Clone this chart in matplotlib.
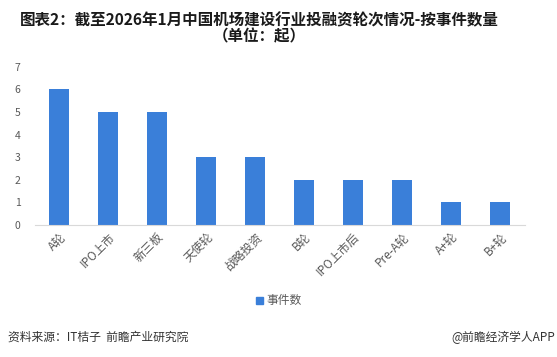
import matplotlib
matplotlib.use("Agg")
import matplotlib.pyplot as plt
from matplotlib.patches import Rectangle

plt.rcParams['font.family'] = ['Noto Sans CJK SC', 'DejaVu Sans']

categories = ["A轮", "IPO上市", "新三板", "天使轮", "战略投资", "B轮", "IPO上市后", "Pre-A轮", "A+轮", "B+轮"]
values = [6, 5, 5, 3, 3, 2, 2, 2, 1, 1]
series_name = "事件数"
title = "图表2：截至2026年1月中国机场建设行业投融资轮次情况-按事件数量\n（单位：起）"
source = "资料来源：IT桔子  前瞻产业研究院"
brand = "@前瞻经济学人APP"

bar_color = "#3A7FD9"
text_color = "#595959"

fig = plt.figure(figsize=(5.57, 3.57), dpi=100)
ax = fig.add_axes([0.062, 0.3697, 0.8797, 0.4435])

x = list(range(len(categories)))
ax.bar(x, values, width=0.41, color=bar_color, label=series_name)
ax.set_xlim(-0.5, len(categories) - 0.5)
ax.set_ylim(0, 7)
ax.set_yticks(range(0, 8))
ax.tick_params(axis='y', length=0, labelsize=7.5, labelcolor=text_color, pad=10)
ax.set_xticks(x)
ax.set_xticklabels(categories, rotation=45, ha='right', rotation_mode='anchor',
                   fontsize=8.5, color=text_color)
ax.tick_params(axis='x', length=0, pad=4)
for s in ['top', 'right', 'left']:
    ax.spines[s].set_visible(False)
ax.spines['bottom'].set_color('#D9D9D9')
ax.spines['bottom'].set_linewidth(0.8)

fig.text(0.465, 0.965, title, ha='center', va='top', fontsize=11.2, fontweight='bold',
         color='#1a1a1a', linespacing=1.0, multialignment='center')

leg = fig.legend(handles=[Rectangle((0, 0), 1, 1, color=bar_color)], labels=[series_name],
                 loc='center', bbox_to_anchor=(0.5, 0.157), frameon=False, fontsize=8.5,
                 handlelength=0.6, handleheight=0.6, handletextpad=0.3)
for t in leg.get_texts():
    t.set_color(text_color)

fig.text(0.014, 0.055, source, ha='left', va='center', fontsize=8.5, color='#333333')
fig.text(0.997, 0.055, brand, ha='right', va='center', fontsize=8.5, color='#333333')

fig.savefig("out.png", dpi=100)
